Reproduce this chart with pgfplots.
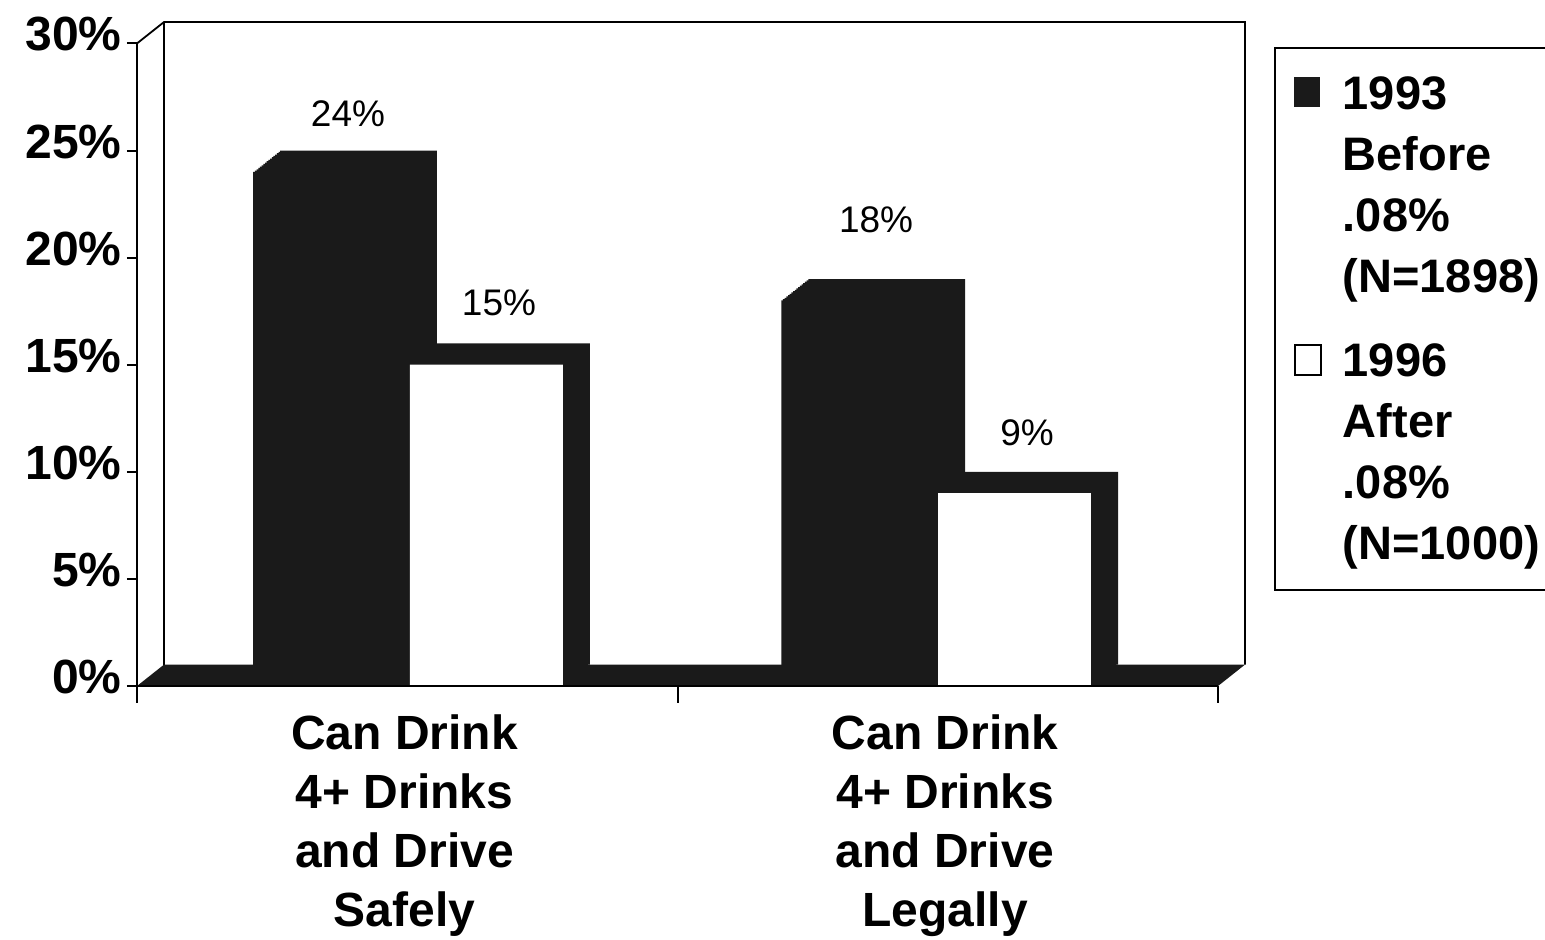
\documentclass[border=0pt]{standalone}
\usepackage{fontspec}
\setmainfont{Liberation Sans}
\usepackage{pgfplots}
\usepackage{pgfplotstable}
\pgfplotsset{compat=1.18}
\definecolor{dk}{RGB}{26,26,26}
\pgfplotstableread{
x y off
0.505 24 29
1.482 18 40.5
}\before
\pgfplotstableread{
x y off
0.505 15 31
1.482 9 30
}\after
\begin{document}
\begin{tikzpicture}
\path[use as bounding box] (-68.5pt,-126.5pt) rectangle (704pt,343pt);
\begin{axis}[
  scale only axis, width=540.5pt, height=332pt,
  xmin=0, xmax=2, ymin=0, ymax=31,
  clip=false,
  axis lines*=left,
  axis line style={draw=none},
  ytick={0,5,...,30},
  yticklabel={\pgfmathprintnumber{\tick}\%},
  /pgf/number format/assume math mode=true,
  yticklabel style={font=\fontsize{24}{28}\selectfont\bfseries, inner sep=0pt, xshift=-2.5pt, yshift=4.5pt},
  tick align=outside,
  major tick length=5pt,
  ytick style={black, line width=1pt},
  xtick={0.495,1.495},
  xticklabels={{Can Drink\\4+ Drinks\\and Drive\\Safely},{Can Drink\\4+ Drinks\\and Drive\\Legally}},
  xticklabel style={font=\fontsize{24}{29.5}\selectfont\bfseries, align=center, anchor=north, inner sep=0pt, yshift=-9pt},
  xtick style={draw=none},
  legend cell align=left,
  legend style={at={(1.0518,0.962)}, anchor=north west, draw=black, line width=1pt,
    font=\fontsize{23.5}{30.5}\selectfont\bfseries, inner xsep=9.5pt, inner ysep=12pt,
    row sep=20.2pt, column sep=8.5pt, cells={align=left, inner sep=0pt}},
]
% back wall and front y axis
\draw[line width=0.9pt] (axis cs:0,0) -- (axis cs:0,30) -- (axis cs:0.05,31) -- (axis cs:2.05,31) -- (axis cs:2.05,1);
\draw[line width=0.9pt] (axis cs:0.05,31) -- (axis cs:0.05,1);
% floor slab
\addplot[forget plot, fill=dk, draw=none] coordinates {(0,0) (2,0) (2.05,1) (0.05,1) (0,0)};
% depth of the bars
\pgfplotsinvokeforeach{1,...,16}{
  \addplot[forget plot, ybar, bar width=0.29, bar shift=-0.145, fill=dk, draw=none,
    xshift=#1*0.84375pt, yshift=#1*0.669pt] table[x=x,y=y]{\before};
  \addplot[forget plot, ybar, bar width=0.283, bar shift=0.1415, fill=dk, draw=none,
    xshift=#1*0.84375pt, yshift=#1*0.669pt] table[x=x,y=y]{\after};
}
% front faces
\addplot[forget plot, ybar, bar width=0.29, bar shift=-0.145, fill=dk, draw=none,
  point meta=y, nodes near coords={\pgfmathprintnumber{\pgfplotspointmeta}\%},
  visualization depends on={\thisrow{off} \as \off},
  every node near coord/.append style={font=\fontsize{18.5}{22}\selectfont, anchor=center, xshift=-31pt, yshift=\off pt, inner sep=0pt}]
  table[x=x,y=y]{\before};
\addplot[forget plot, ybar, bar width=0.283, bar shift=0.1415, fill=white, draw=none,
  point meta=y, nodes near coords={\pgfmathprintnumber{\pgfplotspointmeta}\%},
  visualization depends on={\thisrow{off} \as \off},
  every node near coord/.append style={font=\fontsize{18.5}{22}\selectfont, anchor=center, xshift=44.5pt, yshift=\off pt, inner sep=0pt}]
  table[x=x,y=y]{\after};
% front floor edge and x ticks
\draw[line width=1pt] (axis cs:0,0) -- (axis cs:2,0);
\draw[line width=1pt] (axis cs:0,0) -- ++(0,-8.5pt);
\draw[line width=1pt] (axis cs:1,0) -- ++(0,-8.5pt);
\draw[line width=1pt] (axis cs:2,0) -- ++(0,-8.5pt);
% legend
\addlegendimage{legend image code/.code={\fill[dk] (0pt,40pt) rectangle (12pt,54pt);}}
\addlegendentry{1993\\Before\\.08\%\\(N=1898)}
\addlegendimage{legend image code/.code={\draw[black, line width=0.8pt, fill=white] (0pt,39pt) rectangle (13pt,54pt);}}
\addlegendentry{1996\\After\\.08\%\\(N=1000)}
\end{axis}
\end{tikzpicture}
\end{document}
